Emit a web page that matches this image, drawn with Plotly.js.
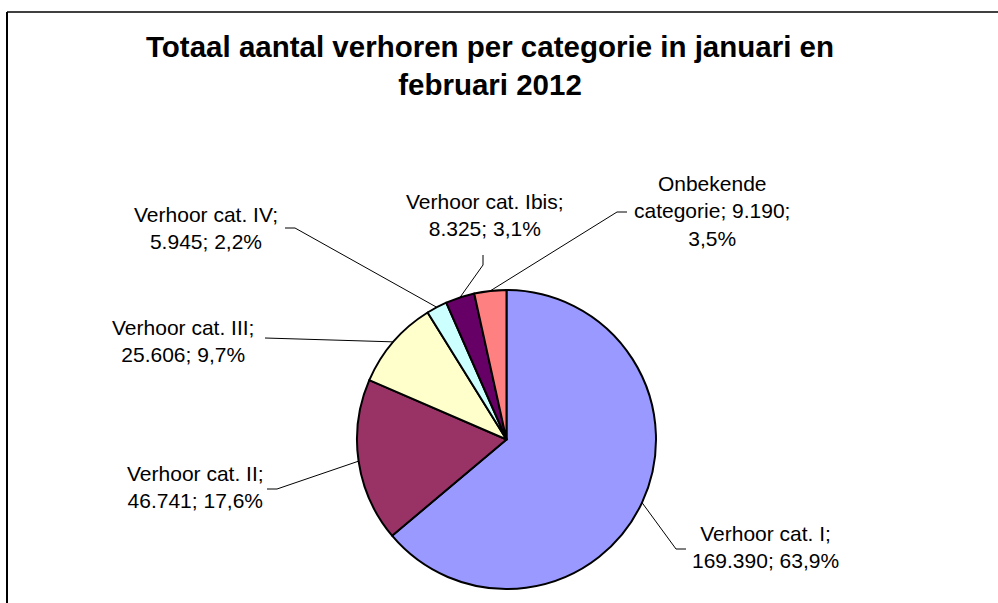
<!DOCTYPE html>
<html>
<head>
<meta charset="utf-8">
<script src="https://cdn.plot.ly/plotly-3.0.1.min.js"></script>
<style>
  html, body { margin: 0; padding: 0; background: #fff; }
  #plot { width: 998px; height: 603px; }
</style>
</head>
<body>
<div id="plot"></div>
<script>
// data
const categories = ['Verhoor cat. I', 'Verhoor cat. II', 'Verhoor cat. III', 'Verhoor cat. IV', 'Verhoor cat. Ibis', 'Onbekende categorie'];
const counts = [169390, 46741, 25606, 5945, 8325, 9190];
const colors = ['#9999FF', '#993366', '#FFFFCC', '#CCFFFF', '#660066', '#FF8080'];

// label placement (pixels): text centre, and where the leader line meets the text
const labelPos = [[765, 547], [195, 487], [183, 341], [206, 228], [485, 215], [712, 211]];
const leaderEnd = [[686, 549], [267, 489], [265, 338], [285, 228], [483, 255], [627, 212]];
const leaderElbow = [[676, 549], [277, 489], [265, 338], [295, 228], [483, 265], [617, 212]];

const W = 998, H = 603;
const cx = 506.5, cy = 439.5, r = 149.5;
const px = x => x / W;
const py = y => 1 - y / H;

const total = counts.reduce((a, b) => a + b, 0);
const fmtNum = n => String(n).replace(/\B(?=(\d{3})+(?!\d))/g, '.');
const fmtPct = v => (v / total * 100).toFixed(1).replace('.', ',') + '%';

// greedy word wrap, like the original labels
function wrap(str, width) {
    const words = str.split(' ');
    const lines = [];
    let cur = '';
    words.forEach(w => {
        if (cur && (cur + ' ' + w).length > width) {
            lines.push(cur);
            cur = w;
        } else {
            cur = cur ? cur + ' ' + w : w;
        }
    });
    if (cur) lines.push(cur);
    return lines.join('<br>');
}

const annotations = [];
const shapes = [];
let cum = 0;
counts.forEach((v, i) => {
    const mid = (cum + v / 2) / total * 2 * Math.PI;
    cum += v;
    const ex = cx + r * Math.sin(mid);
    const ey = cy - r * Math.cos(mid);
    const text = wrap(categories[i] + '; ' + fmtNum(v) + '; ' + fmtPct(v), 18);
    annotations.push({
        text: text,
        x: px(labelPos[i][0]), y: py(labelPos[i][1]),
        xref: 'paper', yref: 'paper',
        xanchor: 'center', yanchor: 'middle',
        showarrow: false,
        font: { family: 'Liberation Sans, Arial, sans-serif', size: 21, color: '#000' },
    });
    shapes.push({
        type: 'path',
        xref: 'paper', yref: 'paper',
        path: 'M' + px(ex) + ',' + py(ey) +
              ' L' + px(leaderElbow[i][0]) + ',' + py(leaderElbow[i][1]) +
              ' L' + px(leaderEnd[i][0]) + ',' + py(leaderEnd[i][1]),
        line: { color: '#000', width: 1 },
    });
});

// chart area border (only top and left visible)
shapes.push({ type: 'line', xref: 'paper', yref: 'paper', x0: px(7), x1: 1, y0: py(12), y1: py(12), line: { color: '#404040', width: 2 } });
shapes.push({ type: 'line', xref: 'paper', yref: 'paper', x0: px(7), x1: px(7), y0: py(12), y1: 0, line: { color: '#000', width: 2 } });

const trace = {
    type: 'pie',
    labels: categories,
    values: counts,
    sort: false,
    direction: 'clockwise',
    rotation: 0,
    textinfo: 'none',
    marker: { colors: colors, line: { color: '#000', width: 2 } },
    domain: { x: [px(cx - r), px(cx + r)], y: [py(cy + r), py(cy - r)] },
    hovertemplate: '%{label}: %{value}<extra></extra>',
};

Plotly.newPlot('plot', [trace], {
    width: W,
    height: H,
    margin: { l: 0, r: 0, t: 0, b: 0 },
    paper_bgcolor: '#fff',
    showlegend: false,
    title: {
        text: '<b>Totaal aantal verhoren per categorie in januari en<br>februari 2012</b>',
        x: px(490), xanchor: 'center',
        y: py(57), yanchor: 'top',
        font: { family: 'Liberation Sans, Arial, sans-serif', size: 29.5, color: '#000' },
    },
    annotations: annotations,
    shapes: shapes,
}, { displayModeBar: false });
</script>
</body>
</html>
